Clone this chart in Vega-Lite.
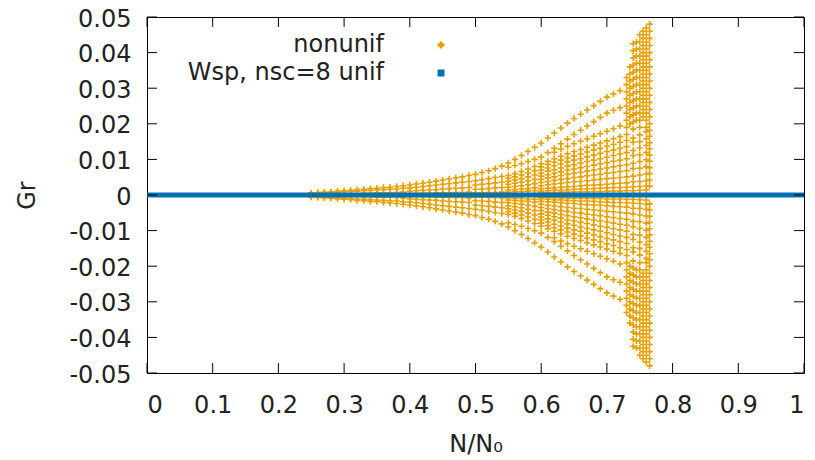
{
"$schema":"https://vega.github.io/schema/vega-lite/v6.json",
"width":657,"height":356,
"autosize":"none",
"padding":{"left":147,"top":17,"right":11,"bottom":87},
"background":"white",
"config":{"view":{"stroke":"#000","strokeWidth":1},"font":"DejaVu Sans",
"axis":{"labelFont":"DejaVu Sans","labelFontSize":24,"labelColor":"#222","titleFont":"DejaVu Sans","titleFontSize":24,"titleFontWeight":"normal","titleColor":"#222","grid":false,"domain":false,"ticks":false}},
"datasets":{
"xticks":[{"v":0},{"v":0.1},{"v":0.2},{"v":0.3},{"v":0.4},{"v":0.5},{"v":0.6},{"v":0.7},{"v":0.8},{"v":0.9},{"v":1}],
"yticks":[{"v":-0.05},{"v":-0.04},{"v":-0.03},{"v":-0.02},{"v":-0.01},{"v":0},{"v":0.01},{"v":0.02},{"v":0.03},{"v":0.04},{"v":0.05}],
"unif":[{"x":0,"y":0},{"x":0.05,"y":0},{"x":0.1,"y":0},{"x":0.15,"y":0},{"x":0.2,"y":0},{"x":0.25,"y":0},{"x":0.3,"y":0},{"x":0.35,"y":0},{"x":0.4,"y":0},{"x":0.45,"y":0},{"x":0.5,"y":0},{"x":0.55,"y":0},{"x":0.6,"y":0},{"x":0.65,"y":0},{"x":0.7,"y":0},{"x":0.75,"y":0},{"x":0.8,"y":0},{"x":0.85,"y":0},{"x":0.9,"y":0},{"x":0.95,"y":0},{"x":1,"y":0}],
"nonunif":[
{"x":0.25,"y":0.0006},{"x":0.25,"y":-0.0006},{"x":0.25,"y":0.0004},{"x":0.25,"y":-0.0004},
{"x":0.26,"y":0.0007},{"x":0.26,"y":-0.0007},{"x":0.26,"y":0.0005},{"x":0.26,"y":-0.0005},
{"x":0.27,"y":0.0008},{"x":0.27,"y":-0.0008},{"x":0.27,"y":0.0006},{"x":0.27,"y":-0.0006},
{"x":0.28,"y":0.0009},{"x":0.28,"y":-0.0009},{"x":0.28,"y":0.0007},{"x":0.28,"y":-0.0007},
{"x":0.29,"y":0.0011},{"x":0.29,"y":-0.0011},{"x":0.29,"y":0.0008},{"x":0.29,"y":-0.0008},
{"x":0.30,"y":0.0012},{"x":0.30,"y":-0.0012},{"x":0.30,"y":0.0009},{"x":0.30,"y":-0.0009},
{"x":0.31,"y":0.0013},{"x":0.31,"y":-0.0013},{"x":0.31,"y":0.0010},{"x":0.31,"y":-0.0010},
{"x":0.32,"y":0.0015},{"x":0.32,"y":-0.0015},{"x":0.32,"y":0.0011},{"x":0.32,"y":-0.0011},
{"x":0.33,"y":0.0016},{"x":0.33,"y":-0.0016},{"x":0.33,"y":0.0012},{"x":0.33,"y":-0.0012},{"x":0.33,"y":0.0005},{"x":0.33,"y":-0.0005},
{"x":0.34,"y":0.0018},{"x":0.34,"y":-0.0018},{"x":0.34,"y":0.0013},{"x":0.34,"y":-0.0013},{"x":0.34,"y":0.0005},{"x":0.34,"y":-0.0005},
{"x":0.35,"y":0.0019},{"x":0.35,"y":-0.0019},{"x":0.35,"y":0.0014},{"x":0.35,"y":-0.0014},{"x":0.35,"y":0.0006},{"x":0.35,"y":-0.0006},
{"x":0.36,"y":0.0021},{"x":0.36,"y":-0.0021},{"x":0.36,"y":0.0015},{"x":0.36,"y":-0.0015},{"x":0.36,"y":0.0006},{"x":0.36,"y":-0.0006},
{"x":0.37,"y":0.0022},{"x":0.37,"y":-0.0022},{"x":0.37,"y":0.0016},{"x":0.37,"y":-0.0016},{"x":0.37,"y":0.0006},{"x":0.37,"y":-0.0006},
{"x":0.38,"y":0.0024},{"x":0.38,"y":-0.0024},{"x":0.38,"y":0.0017},{"x":0.38,"y":-0.0017},{"x":0.38,"y":0.0007},{"x":0.38,"y":-0.0007},
{"x":0.39,"y":0.0026},{"x":0.39,"y":-0.0026},{"x":0.39,"y":0.0019},{"x":0.39,"y":-0.0019},{"x":0.39,"y":0.0008},{"x":0.39,"y":-0.0008},
{"x":0.40,"y":0.0028},{"x":0.40,"y":-0.0028},{"x":0.40,"y":0.0020},{"x":0.40,"y":-0.0020},{"x":0.40,"y":0.0011},{"x":0.40,"y":-0.0011},{"x":0.40,"y":0.0004},{"x":0.40,"y":-0.0004},
{"x":0.41,"y":0.0031},{"x":0.41,"y":-0.0031},{"x":0.41,"y":0.0022},{"x":0.41,"y":-0.0022},{"x":0.41,"y":0.0012},{"x":0.41,"y":-0.0012},{"x":0.41,"y":0.0004},{"x":0.41,"y":-0.0004},
{"x":0.42,"y":0.0033},{"x":0.42,"y":-0.0033},{"x":0.42,"y":0.0024},{"x":0.42,"y":-0.0024},{"x":0.42,"y":0.0013},{"x":0.42,"y":-0.0013},{"x":0.42,"y":0.0005},{"x":0.42,"y":-0.0005},
{"x":0.43,"y":0.0036},{"x":0.43,"y":-0.0036},{"x":0.43,"y":0.0026},{"x":0.43,"y":-0.0026},{"x":0.43,"y":0.0014},{"x":0.43,"y":-0.0014},{"x":0.43,"y":0.0005},{"x":0.43,"y":-0.0005},
{"x":0.44,"y":0.0039},{"x":0.44,"y":-0.0039},{"x":0.44,"y":0.0028},{"x":0.44,"y":-0.0028},{"x":0.44,"y":0.0015},{"x":0.44,"y":-0.0015},{"x":0.44,"y":0.0006},{"x":0.44,"y":-0.0006},
{"x":0.45,"y":0.0042},{"x":0.45,"y":-0.0042},{"x":0.45,"y":0.0030},{"x":0.45,"y":-0.0030},{"x":0.45,"y":0.0017},{"x":0.45,"y":-0.0017},{"x":0.45,"y":0.0006},{"x":0.45,"y":-0.0006},
{"x":0.46,"y":0.0045},{"x":0.46,"y":-0.0045},{"x":0.46,"y":0.0032},{"x":0.46,"y":-0.0032},{"x":0.46,"y":0.0018},{"x":0.46,"y":-0.0018},{"x":0.46,"y":0.0006},{"x":0.46,"y":-0.0006},
{"x":0.47,"y":0.0048},{"x":0.47,"y":-0.0048},{"x":0.47,"y":0.0034},{"x":0.47,"y":-0.0034},{"x":0.47,"y":0.0019},{"x":0.47,"y":-0.0019},{"x":0.47,"y":0.0007},{"x":0.47,"y":-0.0007},
{"x":0.48,"y":0.0051},{"x":0.48,"y":-0.0051},{"x":0.48,"y":0.0036},{"x":0.48,"y":-0.0036},{"x":0.48,"y":0.0020},{"x":0.48,"y":-0.0020},{"x":0.48,"y":0.0007},{"x":0.48,"y":-0.0007},
{"x":0.49,"y":0.0055},{"x":0.49,"y":-0.0055},{"x":0.49,"y":0.0038},{"x":0.49,"y":-0.0038},{"x":0.49,"y":0.0021},{"x":0.49,"y":-0.0021},{"x":0.49,"y":0.0008},{"x":0.49,"y":-0.0008},
{"x":0.50,"y":0.0058},{"x":0.50,"y":-0.0058},{"x":0.50,"y":0.0040},{"x":0.50,"y":-0.0040},{"x":0.50,"y":0.0028},{"x":0.50,"y":-0.0028},{"x":0.50,"y":0.0016},{"x":0.50,"y":-0.0016},{"x":0.50,"y":0.0006},{"x":0.50,"y":-0.0006},
{"x":0.51,"y":0.0063},{"x":0.51,"y":-0.0063},{"x":0.51,"y":0.0043},{"x":0.51,"y":-0.0043},{"x":0.51,"y":0.0030},{"x":0.51,"y":-0.0030},{"x":0.51,"y":0.0017},{"x":0.51,"y":-0.0017},{"x":0.51,"y":0.0006},{"x":0.51,"y":-0.0006},
{"x":0.52,"y":0.0068},{"x":0.52,"y":-0.0068},{"x":0.52,"y":0.0046},{"x":0.52,"y":-0.0046},{"x":0.52,"y":0.0032},{"x":0.52,"y":-0.0032},{"x":0.52,"y":0.0018},{"x":0.52,"y":-0.0018},{"x":0.52,"y":0.0007},{"x":0.52,"y":-0.0007},
{"x":0.53,"y":0.0074},{"x":0.53,"y":-0.0074},{"x":0.53,"y":0.0049},{"x":0.53,"y":-0.0049},{"x":0.53,"y":0.0034},{"x":0.53,"y":-0.0034},{"x":0.53,"y":0.0020},{"x":0.53,"y":-0.0020},{"x":0.53,"y":0.0007},{"x":0.53,"y":-0.0007},
{"x":0.54,"y":0.0081},{"x":0.54,"y":-0.0081},{"x":0.54,"y":0.0052},{"x":0.54,"y":-0.0052},{"x":0.54,"y":0.0036},{"x":0.54,"y":-0.0036},{"x":0.54,"y":0.0021},{"x":0.54,"y":-0.0021},{"x":0.54,"y":0.0008},{"x":0.54,"y":-0.0008},
{"x":0.55,"y":0.0090},{"x":0.55,"y":-0.0090},{"x":0.55,"y":0.0078},{"x":0.55,"y":-0.0078},{"x":0.55,"y":0.0055},{"x":0.55,"y":-0.0055},{"x":0.55,"y":0.0039},{"x":0.55,"y":-0.0039},{"x":0.55,"y":0.0022},{"x":0.55,"y":-0.0022},{"x":0.55,"y":0.0008},{"x":0.55,"y":-0.0008},
{"x":0.56,"y":0.0100},{"x":0.56,"y":-0.0100},{"x":0.56,"y":0.0083},{"x":0.56,"y":-0.0083},{"x":0.56,"y":0.0060},{"x":0.56,"y":-0.0060},{"x":0.56,"y":0.0042},{"x":0.56,"y":-0.0042},{"x":0.56,"y":0.0024},{"x":0.56,"y":-0.0024},{"x":0.56,"y":0.0009},{"x":0.56,"y":-0.0009},
{"x":0.57,"y":0.0111},{"x":0.57,"y":-0.0111},{"x":0.57,"y":0.0088},{"x":0.57,"y":-0.0088},{"x":0.57,"y":0.0066},{"x":0.57,"y":-0.0066},{"x":0.57,"y":0.0046},{"x":0.57,"y":-0.0046},{"x":0.57,"y":0.0026},{"x":0.57,"y":-0.0026},{"x":0.57,"y":0.0010},{"x":0.57,"y":-0.0010},
{"x":0.58,"y":0.0122},{"x":0.58,"y":-0.0122},{"x":0.58,"y":0.0094},{"x":0.58,"y":-0.0094},{"x":0.58,"y":0.0073},{"x":0.58,"y":-0.0073},{"x":0.58,"y":0.0051},{"x":0.58,"y":-0.0051},{"x":0.58,"y":0.0029},{"x":0.58,"y":-0.0029},{"x":0.58,"y":0.0011},{"x":0.58,"y":-0.0011},
{"x":0.59,"y":0.0134},{"x":0.59,"y":-0.0134},{"x":0.59,"y":0.0100},{"x":0.59,"y":-0.0100},{"x":0.59,"y":0.0080},{"x":0.59,"y":-0.0080},{"x":0.59,"y":0.0056},{"x":0.59,"y":-0.0056},{"x":0.59,"y":0.0032},{"x":0.59,"y":-0.0032},{"x":0.59,"y":0.0012},{"x":0.59,"y":-0.0012},
{"x":0.60,"y":0.0146},{"x":0.60,"y":-0.0146},{"x":0.60,"y":0.0107},{"x":0.60,"y":-0.0107},{"x":0.60,"y":0.0088},{"x":0.60,"y":-0.0088},{"x":0.60,"y":0.0070},{"x":0.60,"y":-0.0070},{"x":0.60,"y":0.0053},{"x":0.60,"y":-0.0053},{"x":0.60,"y":0.0035},{"x":0.60,"y":-0.0035},{"x":0.60,"y":0.0018},{"x":0.60,"y":-0.0018},{"x":0.60,"y":0.0006},{"x":0.60,"y":-0.0006},
{"x":0.61,"y":0.0160},{"x":0.61,"y":-0.0160},{"x":0.61,"y":0.0119},{"x":0.61,"y":-0.0119},{"x":0.61,"y":0.0095},{"x":0.61,"y":-0.0095},{"x":0.61,"y":0.0076},{"x":0.61,"y":-0.0076},{"x":0.61,"y":0.0057},{"x":0.61,"y":-0.0057},{"x":0.61,"y":0.0038},{"x":0.61,"y":-0.0038},{"x":0.61,"y":0.0019},{"x":0.61,"y":-0.0019},{"x":0.61,"y":0.0007},{"x":0.61,"y":-0.0007},
{"x":0.62,"y":0.0174},{"x":0.62,"y":-0.0174},{"x":0.62,"y":0.0131},{"x":0.62,"y":-0.0131},{"x":0.62,"y":0.0120},{"x":0.62,"y":-0.0120},{"x":0.62,"y":0.0102},{"x":0.62,"y":-0.0102},{"x":0.62,"y":0.0082},{"x":0.62,"y":-0.0082},{"x":0.62,"y":0.0061},{"x":0.62,"y":-0.0061},{"x":0.62,"y":0.0041},{"x":0.62,"y":-0.0041},{"x":0.62,"y":0.0020},{"x":0.62,"y":-0.0020},{"x":0.62,"y":0.0007},{"x":0.62,"y":-0.0007},
{"x":0.63,"y":0.0188},{"x":0.63,"y":-0.0188},{"x":0.63,"y":0.0144},{"x":0.63,"y":-0.0144},{"x":0.63,"y":0.0129},{"x":0.63,"y":-0.0129},{"x":0.63,"y":0.0109},{"x":0.63,"y":-0.0109},{"x":0.63,"y":0.0087},{"x":0.63,"y":-0.0087},{"x":0.63,"y":0.0065},{"x":0.63,"y":-0.0065},{"x":0.63,"y":0.0044},{"x":0.63,"y":-0.0044},{"x":0.63,"y":0.0022},{"x":0.63,"y":-0.0022},{"x":0.63,"y":0.0008},{"x":0.63,"y":-0.0008},
{"x":0.64,"y":0.0202},{"x":0.64,"y":-0.0202},{"x":0.64,"y":0.0157},{"x":0.64,"y":-0.0157},{"x":0.64,"y":0.0137},{"x":0.64,"y":-0.0137},{"x":0.64,"y":0.0116},{"x":0.64,"y":-0.0116},{"x":0.64,"y":0.0093},{"x":0.64,"y":-0.0093},{"x":0.64,"y":0.0070},{"x":0.64,"y":-0.0070},{"x":0.64,"y":0.0046},{"x":0.64,"y":-0.0046},{"x":0.64,"y":0.0023},{"x":0.64,"y":-0.0023},{"x":0.64,"y":0.0008},{"x":0.64,"y":-0.0008},
{"x":0.65,"y":0.0215},{"x":0.65,"y":-0.0215},{"x":0.65,"y":0.0170},{"x":0.65,"y":-0.0170},{"x":0.65,"y":0.0144},{"x":0.65,"y":-0.0144},{"x":0.65,"y":0.0122},{"x":0.65,"y":-0.0122},{"x":0.65,"y":0.0098},{"x":0.65,"y":-0.0098},{"x":0.65,"y":0.0073},{"x":0.65,"y":-0.0073},{"x":0.65,"y":0.0049},{"x":0.65,"y":-0.0049},{"x":0.65,"y":0.0024},{"x":0.65,"y":-0.0024},{"x":0.65,"y":0.0009},{"x":0.65,"y":-0.0009},
{"x":0.66,"y":0.0227},{"x":0.66,"y":-0.0227},{"x":0.66,"y":0.0182},{"x":0.66,"y":-0.0182},{"x":0.66,"y":0.0151},{"x":0.66,"y":-0.0151},{"x":0.66,"y":0.0128},{"x":0.66,"y":-0.0128},{"x":0.66,"y":0.0102},{"x":0.66,"y":-0.0102},{"x":0.66,"y":0.0077},{"x":0.66,"y":-0.0077},{"x":0.66,"y":0.0051},{"x":0.66,"y":-0.0051},{"x":0.66,"y":0.0026},{"x":0.66,"y":-0.0026},{"x":0.66,"y":0.0009},{"x":0.66,"y":-0.0009},
{"x":0.67,"y":0.0239},{"x":0.67,"y":-0.0239},{"x":0.67,"y":0.0194},{"x":0.67,"y":-0.0194},{"x":0.67,"y":0.0158},{"x":0.67,"y":-0.0158},{"x":0.67,"y":0.0134},{"x":0.67,"y":-0.0134},{"x":0.67,"y":0.0107},{"x":0.67,"y":-0.0107},{"x":0.67,"y":0.0080},{"x":0.67,"y":-0.0080},{"x":0.67,"y":0.0054},{"x":0.67,"y":-0.0054},{"x":0.67,"y":0.0027},{"x":0.67,"y":-0.0027},{"x":0.67,"y":0.0009},{"x":0.67,"y":-0.0009},
{"x":0.68,"y":0.0251},{"x":0.68,"y":-0.0251},{"x":0.68,"y":0.0206},{"x":0.68,"y":-0.0206},{"x":0.68,"y":0.0165},{"x":0.68,"y":-0.0165},{"x":0.68,"y":0.0140},{"x":0.68,"y":-0.0140},{"x":0.68,"y":0.0112},{"x":0.68,"y":-0.0112},{"x":0.68,"y":0.0084},{"x":0.68,"y":-0.0084},{"x":0.68,"y":0.0056},{"x":0.68,"y":-0.0056},{"x":0.68,"y":0.0028},{"x":0.68,"y":-0.0028},{"x":0.68,"y":0.0010},{"x":0.68,"y":-0.0010},
{"x":0.69,"y":0.0263},{"x":0.69,"y":-0.0263},{"x":0.69,"y":0.0218},{"x":0.69,"y":-0.0218},{"x":0.69,"y":0.0172},{"x":0.69,"y":-0.0172},{"x":0.69,"y":0.0146},{"x":0.69,"y":-0.0146},{"x":0.69,"y":0.0117},{"x":0.69,"y":-0.0117},{"x":0.69,"y":0.0088},{"x":0.69,"y":-0.0088},{"x":0.69,"y":0.0058},{"x":0.69,"y":-0.0058},{"x":0.69,"y":0.0029},{"x":0.69,"y":-0.0029},{"x":0.69,"y":0.0010},{"x":0.69,"y":-0.0010},
{"x":0.70,"y":0.0275},{"x":0.70,"y":-0.0275},{"x":0.70,"y":0.0230},{"x":0.70,"y":-0.0230},{"x":0.70,"y":0.0179},{"x":0.70,"y":-0.0179},{"x":0.70,"y":0.0152},{"x":0.70,"y":-0.0152},{"x":0.70,"y":0.0122},{"x":0.70,"y":-0.0122},{"x":0.70,"y":0.0091},{"x":0.70,"y":-0.0091},{"x":0.70,"y":0.0061},{"x":0.70,"y":-0.0061},{"x":0.70,"y":0.0030},{"x":0.70,"y":-0.0030},{"x":0.70,"y":0.0011},{"x":0.70,"y":-0.0011},
{"x":0.71,"y":0.0284},{"x":0.71,"y":-0.0284},{"x":0.71,"y":0.0238},{"x":0.71,"y":-0.0238},{"x":0.71,"y":0.0186},{"x":0.71,"y":-0.0186},{"x":0.71,"y":0.0158},{"x":0.71,"y":-0.0158},{"x":0.71,"y":0.0126},{"x":0.71,"y":-0.0126},{"x":0.71,"y":0.0095},{"x":0.71,"y":-0.0095},{"x":0.71,"y":0.0063},{"x":0.71,"y":-0.0063},{"x":0.71,"y":0.0032},{"x":0.71,"y":-0.0032},{"x":0.71,"y":0.0011},{"x":0.71,"y":-0.0011},
{"x":0.72,"y":0.0293},{"x":0.72,"y":-0.0293},{"x":0.72,"y":0.0245},{"x":0.72,"y":-0.0245},{"x":0.72,"y":0.0194},{"x":0.72,"y":-0.0194},{"x":0.72,"y":0.0164},{"x":0.72,"y":-0.0164},{"x":0.72,"y":0.0131},{"x":0.72,"y":-0.0131},{"x":0.72,"y":0.0098},{"x":0.72,"y":-0.0098},{"x":0.72,"y":0.0066},{"x":0.72,"y":-0.0066},{"x":0.72,"y":0.0033},{"x":0.72,"y":-0.0033},{"x":0.72,"y":0.0011},{"x":0.72,"y":-0.0011},
{"x":0.73,"y":0.033},{"x":0.73,"y":-0.033},{"x":0.73,"y":0.031},{"x":0.73,"y":-0.031},{"x":0.73,"y":0.029},{"x":0.73,"y":-0.029},{"x":0.73,"y":0.027},{"x":0.73,"y":-0.027},{"x":0.73,"y":0.025},{"x":0.73,"y":-0.025},{"x":0.73,"y":0.023},{"x":0.73,"y":-0.023},{"x":0.73,"y":0.021},{"x":0.73,"y":-0.021},{"x":0.73,"y":0.019},{"x":0.73,"y":-0.019},{"x":0.73,"y":0.0170},{"x":0.73,"y":-0.0170},{"x":0.73,"y":0.0136},{"x":0.73,"y":-0.0136},{"x":0.73,"y":0.0102},{"x":0.73,"y":-0.0102},{"x":0.73,"y":0.0068},{"x":0.73,"y":-0.0068},{"x":0.73,"y":0.0034},{"x":0.73,"y":-0.0034},{"x":0.73,"y":0.0012},{"x":0.73,"y":-0.0012},
{"x":0.735,"y":0.036},{"x":0.735,"y":-0.036},{"x":0.735,"y":0.034},{"x":0.735,"y":-0.034},{"x":0.735,"y":0.032},{"x":0.735,"y":-0.032},{"x":0.735,"y":0.030},{"x":0.735,"y":-0.030},{"x":0.735,"y":0.028},{"x":0.735,"y":-0.028},{"x":0.735,"y":0.026},{"x":0.735,"y":-0.026},{"x":0.735,"y":0.024},{"x":0.735,"y":-0.024},{"x":0.735,"y":0.022},{"x":0.735,"y":-0.022},{"x":0.735,"y":0.020},{"x":0.735,"y":-0.020},
{"x":0.74,"y":0.0425},{"x":0.74,"y":-0.0425},{"x":0.74,"y":0.0405},{"x":0.74,"y":-0.0405},{"x":0.74,"y":0.0385},{"x":0.74,"y":-0.0385},{"x":0.74,"y":0.0365},{"x":0.74,"y":-0.0365},{"x":0.74,"y":0.0345},{"x":0.74,"y":-0.0345},{"x":0.74,"y":0.0325},{"x":0.74,"y":-0.0325},{"x":0.74,"y":0.0305},{"x":0.74,"y":-0.0305},{"x":0.74,"y":0.0285},{"x":0.74,"y":-0.0285},{"x":0.74,"y":0.0265},{"x":0.74,"y":-0.0265},{"x":0.74,"y":0.0245},{"x":0.74,"y":-0.0245},{"x":0.74,"y":0.0225},{"x":0.74,"y":-0.0225},{"x":0.74,"y":0.0205},{"x":0.74,"y":-0.0205},{"x":0.74,"y":0.0185},{"x":0.74,"y":-0.0185},{"x":0.74,"y":0.0148},{"x":0.74,"y":-0.0148},{"x":0.74,"y":0.0111},{"x":0.74,"y":-0.0111},{"x":0.74,"y":0.0074},{"x":0.74,"y":-0.0074},{"x":0.74,"y":0.0037},{"x":0.74,"y":-0.0037},{"x":0.74,"y":0.0012},{"x":0.74,"y":-0.0012},
{"x":0.745,"y":0.043},{"x":0.745,"y":-0.043},{"x":0.745,"y":0.041},{"x":0.745,"y":-0.041},{"x":0.745,"y":0.039},{"x":0.745,"y":-0.039},{"x":0.745,"y":0.037},{"x":0.745,"y":-0.037},{"x":0.745,"y":0.035},{"x":0.745,"y":-0.035},{"x":0.745,"y":0.033},{"x":0.745,"y":-0.033},{"x":0.745,"y":0.031},{"x":0.745,"y":-0.031},{"x":0.745,"y":0.029},{"x":0.745,"y":-0.029},{"x":0.745,"y":0.027},{"x":0.745,"y":-0.027},{"x":0.745,"y":0.025},{"x":0.745,"y":-0.025},{"x":0.745,"y":0.023},{"x":0.745,"y":-0.023},{"x":0.745,"y":0.021},{"x":0.745,"y":-0.021},
{"x":0.75,"y":0.045},{"x":0.75,"y":-0.045},{"x":0.75,"y":0.043},{"x":0.75,"y":-0.043},{"x":0.75,"y":0.041},{"x":0.75,"y":-0.041},{"x":0.75,"y":0.039},{"x":0.75,"y":-0.039},{"x":0.75,"y":0.037},{"x":0.75,"y":-0.037},{"x":0.75,"y":0.035},{"x":0.75,"y":-0.035},{"x":0.75,"y":0.033},{"x":0.75,"y":-0.033},{"x":0.75,"y":0.031},{"x":0.75,"y":-0.031},{"x":0.75,"y":0.029},{"x":0.75,"y":-0.029},{"x":0.75,"y":0.027},{"x":0.75,"y":-0.027},{"x":0.75,"y":0.025},{"x":0.75,"y":-0.025},{"x":0.75,"y":0.023},{"x":0.75,"y":-0.023},{"x":0.75,"y":0.021},{"x":0.75,"y":-0.021},{"x":0.75,"y":0.019},{"x":0.75,"y":-0.019},{"x":0.75,"y":0.0150},{"x":0.75,"y":-0.0150},{"x":0.75,"y":0.0113},{"x":0.75,"y":-0.0113},{"x":0.75,"y":0.0075},{"x":0.75,"y":-0.0075},{"x":0.75,"y":0.0038},{"x":0.75,"y":-0.0038},{"x":0.75,"y":0.0013},{"x":0.75,"y":-0.0013},
{"x":0.755,"y":0.046},{"x":0.755,"y":-0.046},{"x":0.755,"y":0.044},{"x":0.755,"y":-0.044},{"x":0.755,"y":0.042},{"x":0.755,"y":-0.042},{"x":0.755,"y":0.040},{"x":0.755,"y":-0.040},{"x":0.755,"y":0.038},{"x":0.755,"y":-0.038},{"x":0.755,"y":0.036},{"x":0.755,"y":-0.036},{"x":0.755,"y":0.034},{"x":0.755,"y":-0.034},{"x":0.755,"y":0.032},{"x":0.755,"y":-0.032},{"x":0.755,"y":0.030},{"x":0.755,"y":-0.030},{"x":0.755,"y":0.028},{"x":0.755,"y":-0.028},{"x":0.755,"y":0.026},{"x":0.755,"y":-0.026},{"x":0.755,"y":0.024},{"x":0.755,"y":-0.024},{"x":0.755,"y":0.022},{"x":0.755,"y":-0.022},
{"x":0.76,"y":0.047},{"x":0.76,"y":-0.047},{"x":0.76,"y":0.045},{"x":0.76,"y":-0.045},{"x":0.76,"y":0.043},{"x":0.76,"y":-0.043},{"x":0.76,"y":0.041},{"x":0.76,"y":-0.041},{"x":0.76,"y":0.039},{"x":0.76,"y":-0.039},{"x":0.76,"y":0.037},{"x":0.76,"y":-0.037},{"x":0.76,"y":0.035},{"x":0.76,"y":-0.035},{"x":0.76,"y":0.033},{"x":0.76,"y":-0.033},{"x":0.76,"y":0.031},{"x":0.76,"y":-0.031},{"x":0.76,"y":0.029},{"x":0.76,"y":-0.029},{"x":0.76,"y":0.027},{"x":0.76,"y":-0.027},{"x":0.76,"y":0.025},{"x":0.76,"y":-0.025},{"x":0.76,"y":0.023},{"x":0.76,"y":-0.023},{"x":0.76,"y":0.021},{"x":0.76,"y":-0.021},{"x":0.76,"y":0.0190},{"x":0.76,"y":-0.0190},{"x":0.76,"y":0.0158},{"x":0.76,"y":-0.0158},{"x":0.76,"y":0.0119},{"x":0.76,"y":-0.0119},{"x":0.76,"y":0.0079},{"x":0.76,"y":-0.0079},{"x":0.76,"y":0.0040},{"x":0.76,"y":-0.0040},{"x":0.76,"y":0.0014},{"x":0.76,"y":-0.0014},
{"x":0.765,"y":0.048},{"x":0.765,"y":-0.048},{"x":0.765,"y":0.046},{"x":0.765,"y":-0.046},{"x":0.765,"y":0.044},{"x":0.765,"y":-0.044},{"x":0.765,"y":0.042},{"x":0.765,"y":-0.042},{"x":0.765,"y":0.040},{"x":0.765,"y":-0.040},{"x":0.765,"y":0.038},{"x":0.765,"y":-0.038},{"x":0.765,"y":0.036},{"x":0.765,"y":-0.036},{"x":0.765,"y":0.034},{"x":0.765,"y":-0.034},{"x":0.765,"y":0.032},{"x":0.765,"y":-0.032},{"x":0.765,"y":0.030},{"x":0.765,"y":-0.030},{"x":0.765,"y":0.028},{"x":0.765,"y":-0.028},{"x":0.765,"y":0.026},{"x":0.765,"y":-0.026},{"x":0.765,"y":0.024},{"x":0.765,"y":-0.024},{"x":0.765,"y":0.022},{"x":0.765,"y":-0.022},{"x":0.765,"y":0.0200},{"x":0.765,"y":-0.0200},{"x":0.765,"y":0.0165},{"x":0.765,"y":-0.0165},{"x":0.765,"y":0.0130},{"x":0.765,"y":-0.0130},{"x":0.765,"y":0.0095},{"x":0.765,"y":-0.0095},{"x":0.765,"y":0.0060},{"x":0.765,"y":-0.0060},{"x":0.765,"y":0.0025},{"x":0.765,"y":-0.0025},
{"x":0.55,"y":0.0047},{"x":0.55,"y":-0.0047},{"x":0.55,"y":0.0030},{"x":0.55,"y":-0.0030},{"x":0.55,"y":0.0014},{"x":0.55,"y":-0.0014},
{"x":0.56,"y":0.0051},{"x":0.56,"y":-0.0051},{"x":0.56,"y":0.0033},{"x":0.56,"y":-0.0033},{"x":0.56,"y":0.0015},{"x":0.56,"y":-0.0015},
{"x":0.57,"y":0.0056},{"x":0.57,"y":-0.0056},{"x":0.57,"y":0.0036},{"x":0.57,"y":-0.0036},{"x":0.57,"y":0.0017},{"x":0.57,"y":-0.0017},
{"x":0.58,"y":0.0062},{"x":0.58,"y":-0.0062},{"x":0.58,"y":0.0040},{"x":0.58,"y":-0.0040},{"x":0.58,"y":0.0018},{"x":0.58,"y":-0.0018},
{"x":0.59,"y":0.0068},{"x":0.59,"y":-0.0068},{"x":0.59,"y":0.0044},{"x":0.59,"y":-0.0044},{"x":0.59,"y":0.0020},{"x":0.59,"y":-0.0020},
{"x":0.60,"y":0.0079},{"x":0.60,"y":-0.0079},{"x":0.60,"y":0.0062},{"x":0.60,"y":-0.0062},{"x":0.60,"y":0.0044},{"x":0.60,"y":-0.0044},{"x":0.60,"y":0.0026},{"x":0.60,"y":-0.0026},{"x":0.60,"y":0.0011},{"x":0.60,"y":-0.0011},
{"x":0.61,"y":0.0086},{"x":0.61,"y":-0.0086},{"x":0.61,"y":0.0067},{"x":0.61,"y":-0.0067},{"x":0.61,"y":0.0048},{"x":0.61,"y":-0.0048},{"x":0.61,"y":0.0029},{"x":0.61,"y":-0.0029},{"x":0.61,"y":0.0012},{"x":0.61,"y":-0.0012},
{"x":0.62,"y":0.0092},{"x":0.62,"y":-0.0092},{"x":0.62,"y":0.0071},{"x":0.62,"y":-0.0071},{"x":0.62,"y":0.0051},{"x":0.62,"y":-0.0051},{"x":0.62,"y":0.0031},{"x":0.62,"y":-0.0031},{"x":0.62,"y":0.0013},{"x":0.62,"y":-0.0013},
{"x":0.63,"y":0.0098},{"x":0.63,"y":-0.0098},{"x":0.63,"y":0.0076},{"x":0.63,"y":-0.0076},{"x":0.63,"y":0.0055},{"x":0.63,"y":-0.0055},{"x":0.63,"y":0.0033},{"x":0.63,"y":-0.0033},{"x":0.63,"y":0.0014},{"x":0.63,"y":-0.0014},
{"x":0.64,"y":0.0104},{"x":0.64,"y":-0.0104},{"x":0.64,"y":0.0081},{"x":0.64,"y":-0.0081},{"x":0.64,"y":0.0058},{"x":0.64,"y":-0.0058},{"x":0.64,"y":0.0035},{"x":0.64,"y":-0.0035},{"x":0.64,"y":0.0015},{"x":0.64,"y":-0.0015},
{"x":0.65,"y":0.0110},{"x":0.65,"y":-0.0110},{"x":0.65,"y":0.0085},{"x":0.65,"y":-0.0085},{"x":0.65,"y":0.0061},{"x":0.65,"y":-0.0061},{"x":0.65,"y":0.0037},{"x":0.65,"y":-0.0037},{"x":0.65,"y":0.0016},{"x":0.65,"y":-0.0016},
{"x":0.66,"y":0.0115},{"x":0.66,"y":-0.0115},{"x":0.66,"y":0.0090},{"x":0.66,"y":-0.0090},{"x":0.66,"y":0.0064},{"x":0.66,"y":-0.0064},{"x":0.66,"y":0.0038},{"x":0.66,"y":-0.0038},{"x":0.66,"y":0.0017},{"x":0.66,"y":-0.0017},
{"x":0.67,"y":0.0121},{"x":0.67,"y":-0.0121},{"x":0.67,"y":0.0094},{"x":0.67,"y":-0.0094},{"x":0.67,"y":0.0067},{"x":0.67,"y":-0.0067},{"x":0.67,"y":0.0040},{"x":0.67,"y":-0.0040},{"x":0.67,"y":0.0017},{"x":0.67,"y":-0.0017},
{"x":0.68,"y":0.0126},{"x":0.68,"y":-0.0126},{"x":0.68,"y":0.0098},{"x":0.68,"y":-0.0098},{"x":0.68,"y":0.0070},{"x":0.68,"y":-0.0070},{"x":0.68,"y":0.0042},{"x":0.68,"y":-0.0042},{"x":0.68,"y":0.0018},{"x":0.68,"y":-0.0018},
{"x":0.69,"y":0.0131},{"x":0.69,"y":-0.0131},{"x":0.69,"y":0.0102},{"x":0.69,"y":-0.0102},{"x":0.69,"y":0.0073},{"x":0.69,"y":-0.0073},{"x":0.69,"y":0.0044},{"x":0.69,"y":-0.0044},{"x":0.69,"y":0.0019},{"x":0.69,"y":-0.0019},
{"x":0.70,"y":0.0137},{"x":0.70,"y":-0.0137},{"x":0.70,"y":0.0106},{"x":0.70,"y":-0.0106},{"x":0.70,"y":0.0076},{"x":0.70,"y":-0.0076},{"x":0.70,"y":0.0046},{"x":0.70,"y":-0.0046},{"x":0.70,"y":0.0020},{"x":0.70,"y":-0.0020},
{"x":0.71,"y":0.0142},{"x":0.71,"y":-0.0142},{"x":0.71,"y":0.0111},{"x":0.71,"y":-0.0111},{"x":0.71,"y":0.0079},{"x":0.71,"y":-0.0079},{"x":0.71,"y":0.0047},{"x":0.71,"y":-0.0047},{"x":0.71,"y":0.0021},{"x":0.71,"y":-0.0021},
{"x":0.72,"y":0.0148},{"x":0.72,"y":-0.0148},{"x":0.72,"y":0.0115},{"x":0.72,"y":-0.0115},{"x":0.72,"y":0.0082},{"x":0.72,"y":-0.0082},{"x":0.72,"y":0.0049},{"x":0.72,"y":-0.0049},{"x":0.72,"y":0.0021},{"x":0.72,"y":-0.0021},
{"x":0.73,"y":0.0153},{"x":0.73,"y":-0.0153},{"x":0.73,"y":0.0119},{"x":0.73,"y":-0.0119},{"x":0.73,"y":0.0085},{"x":0.73,"y":-0.0085},{"x":0.73,"y":0.0051},{"x":0.73,"y":-0.0051},{"x":0.73,"y":0.0022},{"x":0.73,"y":-0.0022},
{"x":0.74,"y":0.0160},{"x":0.74,"y":-0.0160},{"x":0.74,"y":0.0125},{"x":0.74,"y":-0.0125},{"x":0.74,"y":0.0089},{"x":0.74,"y":-0.0089},{"x":0.74,"y":0.0053},{"x":0.74,"y":-0.0053},{"x":0.74,"y":0.0023},{"x":0.74,"y":-0.0023},
{"x":0.75,"y":0.0169},{"x":0.75,"y":-0.0169},{"x":0.75,"y":0.0132},{"x":0.75,"y":-0.0132},{"x":0.75,"y":0.0094},{"x":0.75,"y":-0.0094},{"x":0.75,"y":0.0056},{"x":0.75,"y":-0.0056},{"x":0.75,"y":0.0024},{"x":0.75,"y":-0.0024},
{"x":0.76,"y":0.0178},{"x":0.76,"y":-0.0178},{"x":0.76,"y":0.0139},{"x":0.76,"y":-0.0139},{"x":0.76,"y":0.0099},{"x":0.76,"y":-0.0099},{"x":0.76,"y":0.0059},{"x":0.76,"y":-0.0059},{"x":0.76,"y":0.0026},{"x":0.76,"y":-0.0026},
{"x":0.765,"y":0.0182},{"x":0.765,"y":-0.0182},{"x":0.765,"y":0.0147},{"x":0.765,"y":-0.0147},{"x":0.765,"y":0.0112},{"x":0.765,"y":-0.0112},{"x":0.765,"y":0.0077},{"x":0.765,"y":-0.0077},{"x":0.765,"y":0.0042},{"x":0.765,"y":-0.0042}
]},
"layer":[
{"data":{"name":"nonunif"},
 "mark":{"type":"point","filled":true,"size":40,"opacity":1},
 "encoding":{
  "x":{"field":"x","type":"quantitative","scale":{"domain":[0,1],"nice":false,"zero":false},
       "axis":{"orient":"bottom","values":[0,0.1,0.2,0.3,0.4,0.5,0.6,0.7,0.8,0.9,1],"format":"~g","title":"N/N\u2080","labelPadding":20,"titlePadding":15}},
  "y":{"field":"y","type":"quantitative","scale":{"domain":[-0.05,0.05],"nice":false,"zero":false},
       "axis":{"orient":"left","values":[-0.05,-0.04,-0.03,-0.02,-0.01,0,0.01,0.02,0.03,0.04,0.05],"labelExpr":"replace(format(datum.value,'~g'),'\u2212','-')","title":"Gr","labelPadding":16,"labelOffset":2,"titlePadding":29}},
  "color":{"datum":"nonunif","scale":{"domain":["nonunif","Wsp, nsc=8 unif"],"range":["#e69f00","#0072b2"]},
       "legend":{"orient":"none","legendX":282,"legendY":16,"title":null,"labelAlign":"right","labelOffset":-69,"labelFontSize":24,"labelFont":"DejaVu Sans","labelColor":"#222","labelLimit":400,"rowPadding":4,"symbolSize":30,"padding":0}},
  "shape":{"datum":"nonunif","scale":{"domain":["nonunif","Wsp, nsc=8 unif"],"range":["M-1,-0.25H-0.25V-1H0.25V-0.25H1V0.25H0.25V1H-0.25V0.25H-1Z","square"]},
       "legend":{"orient":"none","legendX":282,"legendY":16,"title":null,"labelAlign":"right","labelOffset":-69,"labelFontSize":24,"labelFont":"DejaVu Sans","labelColor":"#222","labelLimit":400,"rowPadding":4,"symbolSize":30,"padding":0}}
 }},
{"data":{"name":"unif"},
 "mark":{"type":"line","strokeWidth":5},
 "encoding":{
  "x":{"field":"x","type":"quantitative","axis":null},
  "y":{"field":"y","type":"quantitative","axis":null},
  "color":{"datum":"Wsp, nsc=8 unif"}
 }},
{"data":{"name":"xticks"},
 "mark":{"type":"rule","color":"#000","strokeWidth":1},
 "encoding":{
  "x":{"field":"v","type":"quantitative","axis":null},
  "y":{"datum":-0.05,"type":"quantitative","axis":null},
  "y2":{"datum":-0.0472}
 }},
{"data":{"name":"xticks"},
 "mark":{"type":"rule","color":"#000","strokeWidth":1},
 "encoding":{
  "x":{"field":"v","type":"quantitative","axis":null},
  "y":{"datum":0.05,"type":"quantitative","axis":null},
  "y2":{"datum":0.0472}
 }},
{"data":{"name":"yticks"},
 "mark":{"type":"rule","color":"#000","strokeWidth":1},
 "encoding":{
  "y":{"field":"v","type":"quantitative","axis":null},
  "x":{"datum":0,"type":"quantitative","axis":null},
  "x2":{"datum":0.0152}
 }},
{"data":{"name":"yticks"},
 "mark":{"type":"rule","color":"#000","strokeWidth":1},
 "encoding":{
  "y":{"field":"v","type":"quantitative","axis":null},
  "x":{"datum":1,"type":"quantitative","axis":null},
  "x2":{"datum":0.9848}
 }}
],
"resolve":{"axis":{"x":"independent","y":"independent"}}
}
